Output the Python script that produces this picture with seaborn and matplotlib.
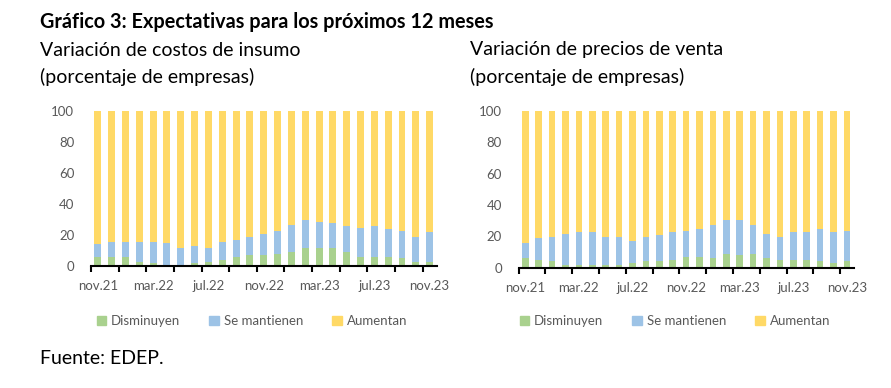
import numpy as np
import pandas as pd
import matplotlib.pyplot as plt
import seaborn as sns

# Months (nov.21 - nov.23)
months = ['nov.21', 'dic.21', 'ene.22', 'feb.22', 'mar.22', 'abr.22', 'may.22',
          'jun.22', 'jul.22', 'ago.22', 'sep.22', 'oct.22', 'nov.22', 'dic.22',
          'ene.23', 'feb.23', 'mar.23', 'abr.23', 'may.23', 'jun.23', 'jul.23',
          'ago.23', 'sep.23', 'oct.23', 'nov.23']

# Costos de insumo (% empresas)
costos_dis = [6, 6, 6, 3, 2, 1, 1, 2, 3, 4, 6, 7, 7, 8, 9, 12, 12, 12, 9, 6, 6, 6, 5, 3, 3]
costos_man = [8, 9.5, 9.5, 12.5, 13.5, 13.7, 10.6, 11.2, 8.8, 11.5, 10.8, 11.8, 13.7, 14.6,
              17.5, 17.5, 16.4, 15.6, 16.6, 18.6, 19.6, 17.7, 17.6, 15.8, 18.8]
costos_aum = [100 - a - b for a, b in zip(costos_dis, costos_man)]

# Precios de venta (% empresas)
precios_dis = [6, 5, 4, 2, 2, 2, 2, 2, 3, 4, 4, 5, 7, 7, 6, 9, 8, 9, 6, 5, 5, 5, 4, 3, 4]
precios_man = [10, 13.7, 15.8, 19.7, 20.8, 20.8, 17.8, 17.8, 13.8, 15.8, 16.6, 17.8, 16.6,
               17.7, 21.4, 21.4, 22.4, 18.4, 15.7, 14.8, 17.8, 17.8, 20.7, 19.8, 19.6]
precios_aum = [100 - a - b for a, b in zip(precios_dis, precios_man)]

green = '#A9D18E'
blue = '#9DC3E6'
yellow = '#FFD966'
grey = '#595959'

plt.rcParams['font.family'] = ['Lato', 'DejaVu Sans']

fig = plt.figure(figsize=(8.91, 3.88), dpi=100)
ax1 = fig.add_axes([0.102, 0.314, 0.388, 0.400])
ax2 = fig.add_axes([0.582, 0.310, 0.376, 0.404])


def draw(ax, dis, man, aum):
    df = pd.DataFrame({'mes': months,
                       'dis': dis,
                       'man': np.array(dis) + np.array(man),
                       'aum': np.array(dis) + np.array(man) + np.array(aum)})
    # stacked bars drawn as layered cumulative totals
    sns.barplot(data=df, x='mes', y='aum', color=yellow, width=0.5, ax=ax,
                saturation=1, edgecolor='none')
    sns.barplot(data=df, x='mes', y='man', color=blue, width=0.5, ax=ax,
                saturation=1, edgecolor='none')
    sns.barplot(data=df, x='mes', y='dis', color=green, width=0.5, ax=ax,
                saturation=1, edgecolor='none')
    ax.set_xlim(-0.5, len(months) - 0.5)
    ax.set_ylim(0, 100)
    ax.set_xlabel('')
    ax.set_ylabel('')
    ax.set_yticks(range(0, 101, 20))
    ax.tick_params(axis='y', length=0, pad=12, labelsize=9.5, labelcolor=grey)
    ax.set_xticks(np.arange(-0.5, len(months), 2))
    ax.set_xticklabels([])
    ax.set_xticks(range(0, len(months), 4), minor=True)
    ax.set_xticklabels(months[::4], minor=True)
    ax.tick_params(axis='x', which='major', length=4, width=1.5, color='black')
    ax.tick_params(axis='x', which='minor', length=0, pad=10, labelsize=9.5,
                   labelcolor=grey)
    for s in ['top', 'right', 'left']:
        ax.spines[s].set_visible(False)
    ax.spines['bottom'].set_linewidth(1.5)
    ax.spines['bottom'].set_color('black')


draw(ax1, costos_dis, costos_man, costos_aum)
draw(ax2, precios_dis, precios_man, precios_aum)

# Legends
handles = [plt.Rectangle((0, 0), 1, 1, color=c) for c in [green, blue, yellow]]
labels = ['Disminuyen', 'Se mantienen', 'Aumentan']
for cx in [252 / 891, 675 / 891]:
    leg = fig.legend(handles, labels, loc='center', bbox_to_anchor=(cx, 1 - 321 / 388),
                     ncol=3, frameon=False, fontsize=9.5, handlelength=0.7,
                     handleheight=0.7, handletextpad=0.4, columnspacing=2.2)
    for t in leg.get_texts():
        t.set_color(grey)

# Titles
fig.text(40 / 891, 1 - 22 / 388, 'Gráfico 3: Expectativas para los próximos 12 meses',
         fontsize=14.3, fontweight='bold', va='center', ha='left')
fig.text(40 / 891, 1 - 50 / 388, 'Variación de costos de insumo', fontsize=14,
         va='center', ha='left')
fig.text(40 / 891, 1 - 77 / 388, '(porcentaje de empresas)', fontsize=14,
         va='center', ha='left')
fig.text(470 / 891, 1 - 50 / 388, 'Variación de precios de venta', fontsize=14,
         va='center', ha='left')
fig.text(470 / 891, 1 - 77 / 388, '(porcentaje de empresas)', fontsize=14,
         va='center', ha='left')
fig.text(40 / 891, 1 - 358 / 388, 'Fuente: EDEP.', fontsize=14, va='center', ha='left')

fig.savefig('out.png', dpi=100)
